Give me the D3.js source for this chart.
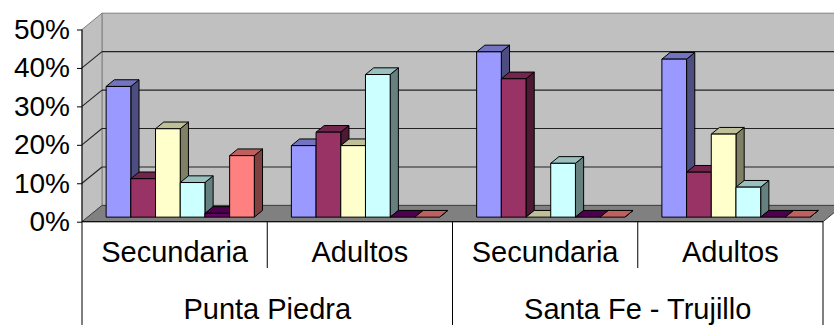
<!DOCTYPE html>
<html>
<head>
<meta charset="utf-8">
<script src="https://cdn.jsdelivr.net/npm/d3@7"></script>
<style>
  html, body { margin: 0; padding: 0; background: #fff; }
  svg { display: block; }
  text { font-family: "Liberation Sans", Arial, sans-serif; fill: #000; }
</style>
</head>
<body>
<svg id="chart" width="834" height="325"></svg>
<script>
// Categories: two places, each with two groups
const regions = ["Punta Piedra", "Santa Fe - Trujillo"];
const levels = ["Secundaria", "Adultos"];
const categoryKeys = ["pp-sec", "pp-adu", "sf-sec", "sf-adu"];

// Series values (percent), one array per series, in category order
const serie1 = [34, 18.6, 43, 41.1];
const serie2 = [10, 22.1, 36, 11.7];
const serie3 = [23, 18.6, 0, 21.6];
const serie4 = [9, 37.1, 14, 7.8];
const serie5 = [1, 0, 0, 0];
const serie6 = [16, 0, 0, 0];

const seriesKeys = ["s1", "s2", "s3", "s4", "s5", "s6"];
const seriesColors = ["#9999FF", "#993366", "#FFFFCC", "#CCFFFF", "#660066", "#FF8080"];
const seriesValues = [serie1, serie2, serie3, serie4, serie5, serie6];

// Value axis ticks
const yTicks = [0, 10, 20, 30, 40, 50];

const svg = d3.select("#chart");

// Front plane of the 3D box
const left = 82, right = 823;
const y = d3.scaleLinear().domain([0, 50]).range([221.7, 29.5]);
const x0 = d3.scaleBand().domain(categoryKeys).range([left, right]);
const x1 = d3.scaleBand().domain(seriesKeys).range([0, x0.bandwidth()]).paddingOuter(0.75);

// Oblique depth of the box and position of the bars within it
const DX = 20, DY = -16.3;
const f0 = 0.28, f1 = 0.69;

const shade = (c, k) => {
  const r = d3.rgb(c);
  return d3.rgb(r.r * k, r.g * k, r.b * k).formatHex();
};
const pts = p => p.map(d => d.join(",")).join(" ");

const gWalls = svg.append("g");

// back wall
gWalls.append("polygon")
  .attr("points", pts([[left + DX, y(50) + DY], [right + DX, y(50) + DY], [right + DX, y(0) + DY], [left + DX, y(0) + DY]]))
  .attr("fill", "#C0C0C0").attr("stroke", "#808080").attr("stroke-width", 1);
// side wall
gWalls.append("polygon")
  .attr("points", pts([[left, y(50)], [left + DX, y(50) + DY], [left + DX, y(0) + DY], [left, y(0)]]))
  .attr("fill", "#C0C0C0").attr("stroke", "#808080").attr("stroke-width", 1);

// gridlines on back and side walls
yTicks.filter(t => t > 0 && t < 50).forEach(t => {
  gWalls.append("line")
    .attr("x1", left + DX).attr("x2", right + DX)
    .attr("y1", y(t) + DY).attr("y2", y(t) + DY)
    .attr("stroke", "#222").attr("stroke-width", 1.1);
  gWalls.append("line")
    .attr("x1", left).attr("x2", left + DX)
    .attr("y1", y(t)).attr("y2", y(t) + DY)
    .attr("stroke", "#222").attr("stroke-width", 1.1);
});

// floor
gWalls.append("polygon")
  .attr("points", pts([[left, y(0)], [right, y(0)], [right + DX, y(0) + DY], [left + DX, y(0) + DY]]))
  .attr("fill", "#808080").attr("stroke", "#404040").attr("stroke-width", 1);

// bars, drawn left to right so each front face covers its neighbour's side
const gBars = svg.append("g").attr("stroke", "#000").attr("stroke-width", 1).attr("stroke-linejoin", "round");
categoryKeys.forEach((cat, ci) => {
  seriesKeys.forEach((sk, si) => {
    const v = seriesValues[si][ci];
    const xl = x0(cat) + x1(sk), xr = xl + x1.bandwidth();
    const yt = y(v), yb = y(0);
    const c = seriesColors[si];
    const g = gBars.append("g");
    // side
    g.append("polygon")
      .attr("points", pts([[xr + f0 * DX, yt + f0 * DY], [xr + f1 * DX, yt + f1 * DY], [xr + f1 * DX, yb + f1 * DY], [xr + f0 * DX, yb + f0 * DY]]))
      .attr("fill", shade(c, 0.5));
    // top
    g.append("polygon")
      .attr("points", pts([[xl + f0 * DX, yt + f0 * DY], [xr + f0 * DX, yt + f0 * DY], [xr + f1 * DX, yt + f1 * DY], [xl + f1 * DX, yt + f1 * DY]]))
      .attr("fill", shade(c, 0.75));
    // front
    if (v > 0) {
      g.append("rect")
        .attr("x", xl + f0 * DX).attr("y", yt + f0 * DY)
        .attr("width", xr - xl).attr("height", yb - yt)
        .attr("fill", c);
    }
  });
});

// value axis
const yAxis = svg.append("g")
  .attr("transform", `translate(${left},0)`)
  .call(d3.axisLeft(y).tickValues(yTicks).tickSize(5).tickPadding(7).tickFormat(d => d + "%"));
yAxis.select(".domain").attr("stroke", "#000").attr("d", `M0,${y(50)}V${y(0)}`);
yAxis.selectAll(".tick line").attr("stroke", "#000");
yAxis.selectAll(".tick text")
  .style("font-family", '"Liberation Sans", Arial, sans-serif')
  .style("font-size", "28px").attr("fill", "#000");

// category axis: front edge of the floor plus two label rows
const gCat = svg.append("g").attr("stroke", "#000").attr("stroke-width", 1);
gCat.append("line").attr("x1", left).attr("x2", right).attr("y1", y(0)).attr("y2", y(0));
categoryKeys.forEach((cat, i) => {
  const xa = x0(cat);
  const isRegionStart = i % 2 === 0;
  gCat.append("line")
    .attr("x1", xa).attr("x2", xa)
    .attr("y1", y(0)).attr("y2", isRegionStart ? 325 : 268);
  svg.append("text")
    .attr("x", xa + x0.bandwidth() / 2).attr("y", 262)
    .attr("text-anchor", "middle")
    .style("font-size", "29px")
    .text(levels[i % 2]);
});
gCat.append("line").attr("x1", right).attr("x2", right).attr("y1", y(0)).attr("y2", 325);
regions.forEach((r, i) => {
  const xa = x0(categoryKeys[i * 2]);
  svg.append("text")
    .attr("x", xa + x0.bandwidth()).attr("y", 319)
    .attr("text-anchor", "middle")
    .style("font-size", "29px")
    .text(r);
});
</script>
</body>
</html>
